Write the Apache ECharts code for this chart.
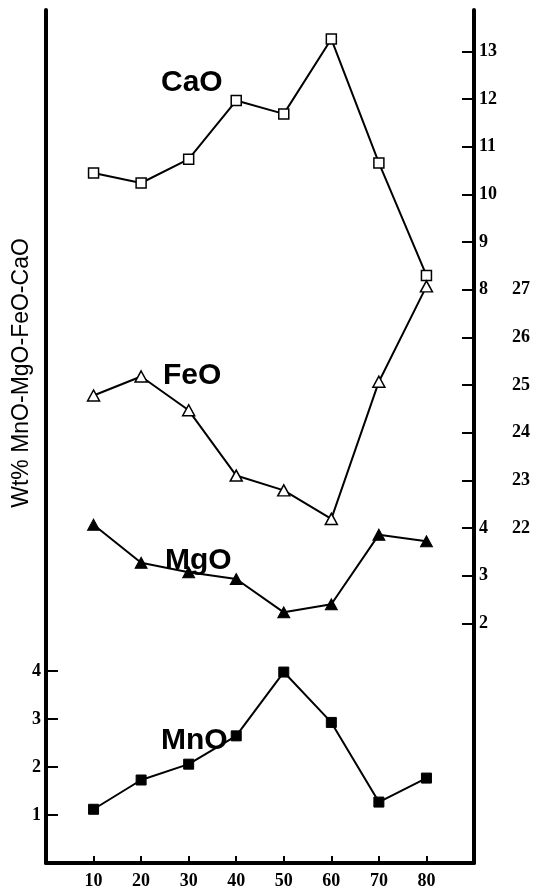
<!DOCTYPE html>
<html>
<head>
<meta charset="utf-8">
<script src="https://cdn.jsdelivr.net/npm/echarts@6/dist/echarts.min.js"></script>
<style>
  html, body { margin: 0; padding: 0; background: #fff; }
  #chart { width: 536px; height: 890px; }
</style>
</head>
<body>
<div id="chart"></div>
<script>
// Sample positions along the profile
const positions = [10, 20, 30, 40, 50, 60, 70, 80];

// Oxide contents (wt%)
const cao = [10.45, 10.24, 10.74, 11.97, 11.69, 13.26, 10.66, 8.30];
const feo = [24.78, 25.18, 24.47, 23.10, 22.79, 22.19, 25.07, 27.07];
const mgo = [4.07, 3.27, 3.07, 2.93, 2.23, 2.40, 3.86, 3.72];
const mno = [1.12, 1.73, 2.06, 2.65, 3.98, 2.93, 1.27, 1.77];

// Tick labels of each scale
const xTicks = [10, 20, 30, 40, 50, 60, 70, 80];
const mnoTicks = [1, 2, 3, 4];
const mgoTicks = [2, 3, 4];
const feoTicks = [22, 23, 24, 25, 26, 27];
const caoTicks = [8, 9, 10, 11, 12, 13];

const pairs = (ys) => positions.map((x, i) => [x, ys[i]]);

const tickFont = {
  fontFamily: 'Liberation Serif',
  fontWeight: 'bold',
  fontSize: 18,
  color: '#000'
};

// One vertical scale per oxide; all share the same grid
function sideAxis(ticks, position, min, max, showLine, margin) {
  return {
    type: 'value',
    position, min, max,
    splitLine: { show: false },
    axisLine: { show: showLine, onZero: false, lineStyle: { color: '#000', width: 4 } },
    axisTick: {
      show: true, inside: true, length: 12,
      lineStyle: { color: '#000', width: 2 },
      customValues: ticks
    },
    axisLabel: Object.assign({ show: true, customValues: ticks, margin }, tickFont)
  };
}

const chart = echarts.init(document.getElementById('chart'), null, { renderer: 'canvas' });

const lineStyle = { color: '#000', width: 2 };
const tagFont = 'bold 30px "Liberation Sans", Arial, sans-serif';

chart.setOption({
  animation: false,
  backgroundColor: '#fff',
  grid: { left: 46, right: 62, top: 10, bottom: 21 },
  xAxis: {
    type: 'value',
    min: 0, max: 90,
    splitLine: { show: false },
    axisLine: { show: true, onZero: false, lineStyle: { color: '#000', width: 4 } },
    axisTick: {
      show: true, inside: true, length: 7,
      lineStyle: { color: '#000', width: 2 },
      customValues: xTicks
    },
    axisLabel: Object.assign({ customValues: xTicks, margin: 9 }, tickFont)
  },
  yAxis: [
    sideAxis(mnoTicks, 'left', 0, 17.78, true, 5),
    sideAxis(mgoTicks, 'right', -3.03, 14.87, true, 5),
    sideAxis(feoTicks, 'right', 14.97, 32.87, false, 38),
    sideAxis(caoTicks, 'right', -4.03, 13.87, false, 5)
  ],
  series: [
    {
      name: 'CaO', type: 'line', yAxisIndex: 3, data: pairs(cao),
      symbol: 'rect', symbolSize: 10, lineStyle,
      itemStyle: { color: '#fff', borderColor: '#000', borderWidth: 1.5 }
    },
    {
      name: 'FeO', type: 'line', yAxisIndex: 2, data: pairs(feo),
      symbol: 'triangle', symbolSize: [12, 11], lineStyle,
      itemStyle: { color: '#fff', borderColor: '#000', borderWidth: 1.5 }
    },
    {
      name: 'MgO', type: 'line', yAxisIndex: 1, data: pairs(mgo),
      symbol: 'triangle', symbolSize: [12, 11], lineStyle,
      itemStyle: { color: '#000', borderColor: '#000', borderWidth: 1 }
    },
    {
      name: 'MnO', type: 'line', yAxisIndex: 0, data: pairs(mno),
      symbol: 'rect', symbolSize: 10, lineStyle,
      itemStyle: { color: '#000', borderColor: '#000', borderWidth: 1 }
    }
  ],
  graphic: [
    {
      type: 'text', x: 22, y: 373,
      rotation: Math.PI / 2,
      style: {
        text: 'Wt% MnO-MgO-FeO-CaO',
        font: '23px "Liberation Sans", Arial, sans-serif',
        fill: '#000', align: 'center', verticalAlign: 'middle'
      }
    },
    { type: 'text', x: 161, y: 83, style: { text: 'CaO', font: tagFont, fill: '#000', verticalAlign: 'middle' } },
    { type: 'text', x: 163, y: 376, style: { text: 'FeO', font: tagFont, fill: '#000', verticalAlign: 'middle' } },
    { type: 'text', x: 165, y: 561, style: { text: 'MgO', font: tagFont, fill: '#000', verticalAlign: 'middle' } },
    { type: 'text', x: 161, y: 741, style: { text: 'MnO', font: tagFont, fill: '#000', verticalAlign: 'middle' } }
  ]
});
</script>
</body>
</html>
